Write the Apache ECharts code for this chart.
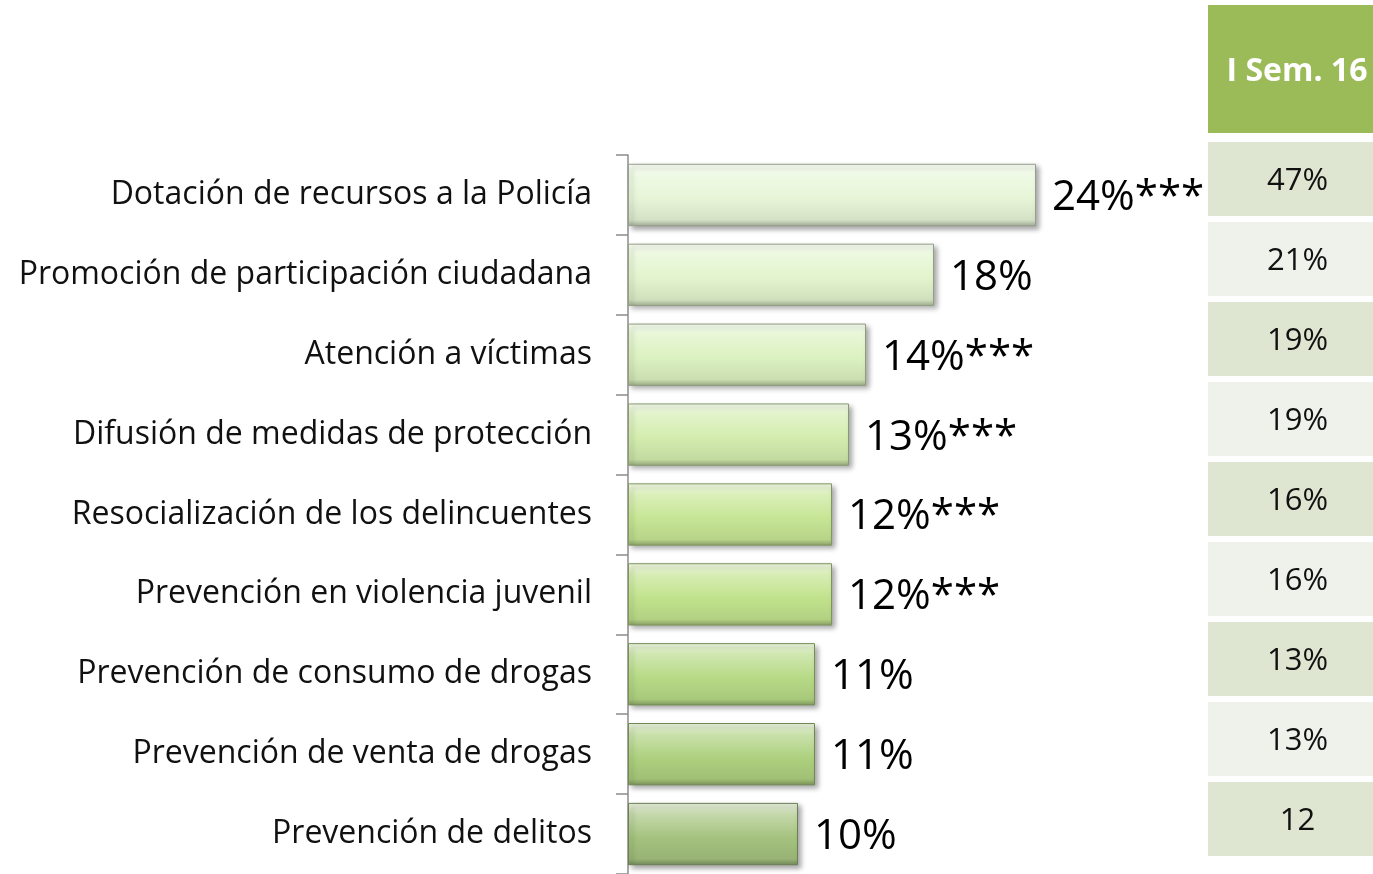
<!DOCTYPE html>
<html>
<head>
<meta charset="utf-8">
<script src="https://cdn.jsdelivr.net/npm/echarts@6/dist/echarts.min.js"></script>
<style>
    html, body { margin: 0; padding: 0; background: #fff; }
    #main { width: 1373px; height: 874px; }
</style>
</head>
<body>
<div id="main"></div>
<script type="text/javascript">
    // datos
    var categories = [
        'Dotación de recursos a la Policía',
        'Promoción de participación ciudadana',
        'Atención a víctimas',
        'Difusión de medidas de protección',
        'Resocialización de los delincuentes',
        'Prevención en violencia juvenil',
        'Prevención de consumo de drogas',
        'Prevención de venta de drogas',
        'Prevención de delitos'
    ];
    var values = [24, 18, 14, 13, 12, 12, 11, 11, 10];
    var marks = ['***', '', '***', '***', '***', '***', '', '', ''];
    var semHeader = 'I Sem. 16';
    var semValues = ['47%', '21%', '19%', '19%', '16%', '16%', '13%', '13%', '12'];

    // colores de cada barra (claro arriba, oscuro abajo)
    var barColors = ['#E7F5D7', '#E2F4CD', '#DCF1C0', '#D3EDAE', '#C7E695', '#C2E38D', '#B7DA86', '#AED17F', '#A5C37F'];
    var cellColors = ['#DEE6D1', '#EFF2EA'];
    var FONT = '"Open Sans"';

    function shade(hex, f) {
        var n = parseInt(hex.slice(1), 16);
        var r = (n >> 16) & 255, g = (n >> 8) & 255, b = n & 255;
        if (f > 0) {
            r = r + (255 - r) * f; g = g + (255 - g) * f; b = b + (255 - b) * f;
        } else {
            r = r * (1 + f); g = g * (1 + f); b = b * (1 + f);
        }
        return 'rgb(' + Math.round(r) + ',' + Math.round(g) + ',' + Math.round(b) + ')';
    }

    var barData = values.map(function (v, i) {
        var c = barColors[i];
        return {
            value: v,
            itemStyle: {
                color: new echarts.graphic.LinearGradient(0, 0, 0, 1, [
                    {offset: 0, color: shade(c, 0.75)},
                    {offset: 0.18, color: shade(c, 0.35)},
                    {offset: 0.55, color: c},
                    {offset: 0.9, color: shade(c, -0.08)},
                    {offset: 1, color: shade(c, -0.3)}
                ]),
                borderColor: shade(c, -0.35),
                borderWidth: 1
            }
        };
    });

    var cellData = semValues.map(function (v, i) {
        return {value: 1, itemStyle: {color: cellColors[i % 2]}};
    });

    var chart = echarts.init(document.getElementById('main'));
    chart.setOption({
        animation: false,
        backgroundColor: '#ffffff',
        textStyle: {fontFamily: FONT},
        grid: [
            {left: 628, top: 155, height: 720, right: 337, containLabel: false},
            {left: 1208, top: 139, height: 720, right: 0, containLabel: false}
        ],
        xAxis: [
            {gridIndex: 0, type: 'value', min: 0, max: 24, show: false},
            {gridIndex: 1, type: 'value', min: 0, max: 1, show: false}
        ],
        yAxis: [
            {
                gridIndex: 0,
                type: 'category',
                data: categories,
                inverse: true,
                axisLine: {show: true, lineStyle: {color: '#8C8C8C', width: 1.5}},
                axisTick: {show: true, length: 12, lineStyle: {color: '#8C8C8C', width: 1.5}},
                axisLabel: {margin: 36, fontSize: 32, color: '#111', fontFamily: FONT, padding: [6, 0, 0, 0]}
            },
            {
                gridIndex: 1,
                type: 'category',
                data: semValues,
                inverse: true,
                show: false
            }
        ],
        graphic: [
            {type: 'rect', shape: {x: 1208, y: 5, width: 165, height: 128}, style: {fill: '#9BBB59'}},
            {
                type: 'text', x: 1297, y: 72,
                style: {text: semHeader, fill: '#fff', font: 'bold 32px "Open Sans"', align: 'center', verticalAlign: 'middle'}
            }
        ],
        series: [
            {
                type: 'bar',
                xAxisIndex: 0,
                yAxisIndex: 0,
                data: barData,
                barCategoryGap: '22%',
                itemStyle: {
                    shadowColor: 'rgba(0,0,0,0.35)',
                    shadowBlur: 5,
                    shadowOffsetX: 3,
                    shadowOffsetY: 3
                },
                label: {
                    show: true,
                    position: 'right',
                    distance: 16,
                    offset: [0, 3],
                    fontSize: 42,
                    color: '#000',
                    fontFamily: FONT,
                    formatter: function (p) {
                        return p.value + '%' + marks[p.dataIndex];
                    }
                }
            },
            {
                type: 'bar',
                xAxisIndex: 1,
                yAxisIndex: 1,
                data: cellData,
                barCategoryGap: '7.5%',
                label: {
                    show: true,
                    position: 'inside',
                    offset: [7, 2],
                    fontSize: 31,
                    color: '#111',
                    fontFamily: FONT,
                    formatter: function (p) {
                        return semValues[p.dataIndex];
                    }
                }
            }
        ]
    });
</script>
</body>
</html>
